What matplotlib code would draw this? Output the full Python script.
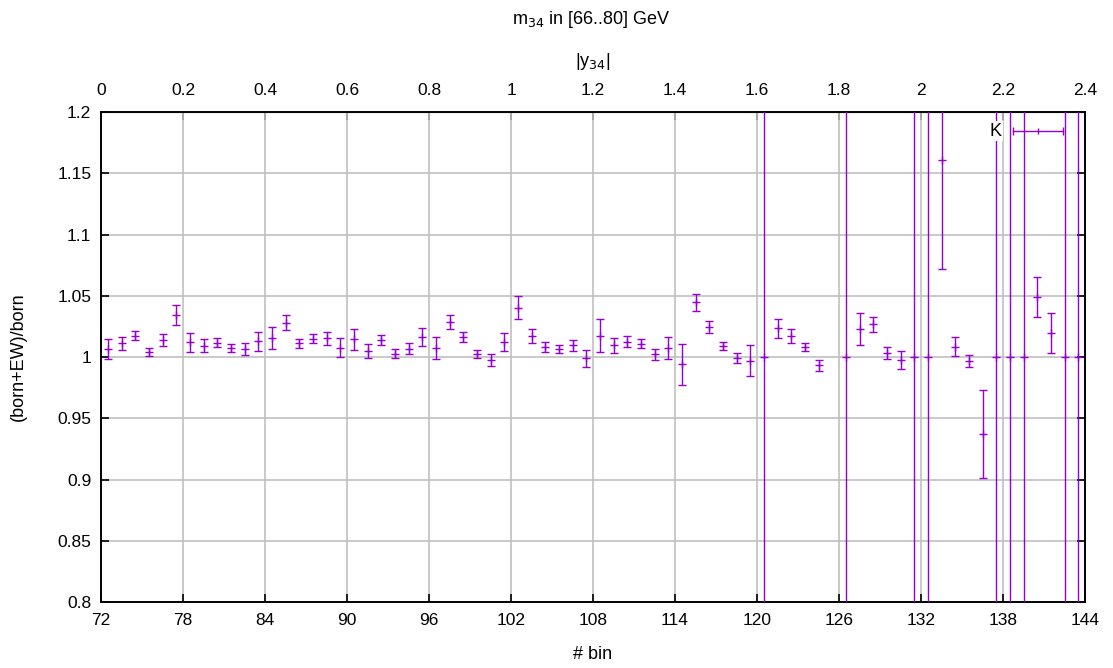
import numpy as np
import matplotlib
matplotlib.use("Agg")
import matplotlib.pyplot as plt
from matplotlib.ticker import FuncFormatter, MultipleLocator

plt.rcParams['font.family'] = ['Liberation Sans', 'DejaVu Sans']

# bin centres (# bin) and the ratio (born+EW)/born with its uncertainty
bin_centres = [b + 0.5 for b in range(72, 144)]
ratio = [
    1.0063, 1.0112, 1.0174, 1.0041, 1.0139, 1.0340, 1.0120, 1.0090, 1.0118, 1.0073,
    1.0063, 1.0128, 1.0155, 1.0280, 1.0111, 1.0150, 1.0152, 1.0076, 1.0144, 1.0049,
    1.0139, 1.0027, 1.0068, 1.0163, 1.0073, 1.0285, 1.0163, 1.0022, 0.9976, 1.0125,
    1.0402, 1.0171, 1.0084, 1.0068, 1.0095, 0.9989, 1.0174, 1.0095, 1.0125, 1.0109,
    1.0022, 1.0073, 0.9940, 1.0446, 1.0242, 1.0090, 0.9992, 0.9970, 1.0000, 1.0234,
    1.0169, 1.0082, 0.9932, np.nan, 1.0000, 1.0226, 1.0266, 1.0030, 0.9976, 1.0000,
    1.0000, 1.1607, 1.0084, 0.9967, 0.9372, 1.0000, 1.0000, 1.0000, 1.0487, 1.0196,
    1.0000, 1.0000,
]
ratio_err = [
    0.0083, 0.0053, 0.0035, 0.0034, 0.0050, 0.0082, 0.0080, 0.0053, 0.0035, 0.0034,
    0.0050, 0.0080, 0.0087, 0.0060, 0.0037, 0.0035, 0.0050, 0.0080, 0.0088, 0.0060,
    0.0040, 0.0035, 0.0047, 0.0077, 0.0088, 0.0060, 0.0040, 0.0034, 0.0046, 0.0073,
    0.0093, 0.0060, 0.0040, 0.0034, 0.0047, 0.0072, 0.0135, 0.0064, 0.0043, 0.0034,
    0.0046, 0.0088, 0.0170, 0.0068, 0.0050, 0.0033, 0.0044, 0.0124, 0.5000, 0.0080,
    0.0057, 0.0035, 0.0045, np.nan, 0.5000, 0.0130, 0.0062, 0.0049, 0.0072, 0.5000,
    0.5000, 0.0890, 0.0076, 0.0050, 0.0360, 0.5000, 0.5000, 0.5000, 0.0163, 0.0160,
    0.5000, 0.5000,
]
series_label = "K"

bin_ticks = [72, 78, 84, 90, 96, 102, 108, 114, 120, 126, 132, 138, 144]
y34_ticks = [0, 0.2, 0.4, 0.6, 0.8, 1.0, 1.2, 1.4, 1.6, 1.8, 2.0, 2.2, 2.4]

violet = '#9400D3'
grid_col = '#c0c0c0'
tick_fs = 12.5
label_fs = 13

fig = plt.figure(figsize=(11.13, 6.68), dpi=100)
ax = fig.add_axes([101 / 1113, 1 - 602 / 668, 984 / 1113, 490 / 668])

ax.errorbar(bin_centres, ratio, yerr=ratio_err, fmt='+', color=violet,
            ecolor=violet, elinewidth=1.0, capsize=2.8, capthick=1.0,
            markersize=5.5, markeredgewidth=1.0, zorder=3)

ax.set_xlim(72, 144)
ax.set_ylim(0.8, 1.2)
ax.set_xticks(bin_ticks)
ax.yaxis.set_major_locator(MultipleLocator(0.05))
ax.yaxis.set_major_formatter(FuncFormatter(lambda v, p: f"{v:g}"))
ax.grid(True, color=grid_col, linewidth=1.2, zorder=0)
ax.set_axisbelow(True)
ax.tick_params(axis='both', direction='in', length=6, width=1.2,
               labelsize=tick_fs, top=False, right=True)
ax.tick_params(axis='x', pad=8)
ax.tick_params(axis='y', pad=7)
for s in ax.spines.values():
    s.set_linewidth(1.4)
    s.set_color('black')

ax.set_xlabel('# bin', fontsize=label_fs, labelpad=13)
ax.set_ylabel('(born+EW)/born', fontsize=label_fs, labelpad=22)

# |y34| on the upper axis: 0.2 per 6 bins
sec = ax.secondary_xaxis('top', functions=(lambda b: (b - 72) / 30.0,
                                           lambda y: y * 30.0 + 72))
sec.set_xticks(y34_ticks)
sec.xaxis.set_major_formatter(FuncFormatter(lambda v, p: f"{v:g}"))
sec.tick_params(direction='in', length=6, width=1.2, labelsize=tick_fs, pad=10)
sec.set_xlabel('|y$_{34}$|', fontsize=label_fs, labelpad=12)

fig.text(0.5315, 1 - 19 / 668, 'm$_{34}$ in [66..80] GeV', ha='center',
         va='center', fontsize=label_fs)

# key entry in the upper right corner
ax.text(0.9150, 0.961, series_label, transform=ax.transAxes, ha='right',
        va='center', fontsize=label_fs, zorder=4,
        bbox=dict(facecolor='white', edgecolor='none', pad=1.0))
ax.plot([0.927, 0.9776], [0.961, 0.961], transform=ax.transAxes,
        color=violet, lw=1.0, zorder=4)
ax.plot([0.927, 0.9776], [0.961, 0.961], transform=ax.transAxes,
        linestyle='none', marker='|', markersize=5.5, markeredgewidth=1.0,
        color=violet, zorder=4)
ax.plot([0.952], [0.961], transform=ax.transAxes, linestyle='none',
        marker='|', markersize=4, markeredgewidth=1.0, color=violet, zorder=4)

fig.savefig('out.png', dpi=100)
